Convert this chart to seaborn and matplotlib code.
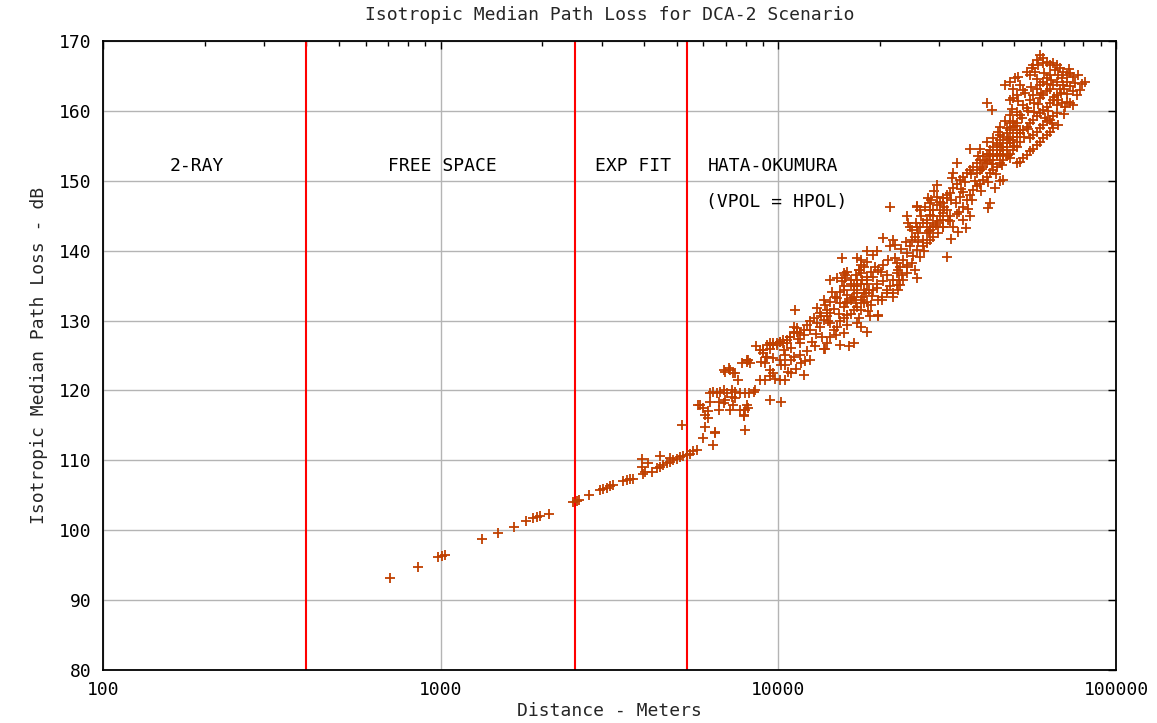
# Isotropic median path loss vs distance, DCA-2 scenario
import pandas as pd
import matplotlib
matplotlib.use("Agg")
import matplotlib.pyplot as plt
import seaborn as sns
from matplotlib.ticker import LogLocator, NullFormatter

# -------- DATA --------
# sparse points: 2-ray / free space / exp fit zones
dist_near = [708, 859, 984, 1006, 1030, 1322, 1475, 1648, 1789,
             1880, 1925, 1968, 2093, 2460, 2525, 2570, 2754,
             2963, 3030, 3100, 3170, 3245, 3475, 3555, 3636, 3720,
             3937, 3937, 4027, 4120, 4213, 3980,
             4361, 4460, 4563, 4668, 4775, 4886, 5000, 5115, 5234, 5355, 5480, 5606, 5735,
             4460, 4775, 5170, 5795]
loss_near = [93.1, 94.8, 96.1, 96.3, 96.5, 98.7, 99.6, 100.4, 101.3,
             101.7, 101.9, 102.0, 102.3, 104.1, 104.2, 104.3, 105.0,
             105.7, 105.9, 106.1, 106.3, 106.5, 107.0, 107.2, 107.3, 107.4,
             110.2, 109.1, 108.4, 109.6, 108.4, 108.1,
             108.9, 109.1, 109.4, 109.6, 109.8, 110.1, 110.2, 110.5, 110.6, 110.8, 110.9, 111.3, 111.5,
             110.6, 110.3, 115.1, 117.9]

# hata-okumura cloud, 6 - 12 km
dist_mid = [6274, 6420, 6570, 6724, 6880, 7040, 7290, 7460, 7720, 7990, 8170, 8450, 8550,
            6274, 6650, 6950, 7290, 7460,
            5870, 6000, 6210, 6070, 6210,
            6650, 6880, 7195, 7360, 7720, 7990, 7900, 8150, 8050, 7900,
            9440, 10200,
            6070, 6500, 7990, 6000, 6390, 6500,
            6950, 7195, 7440, 7600,
            7780, 8050, 8240, 8150,
            8600, 8810, 9000, 8900, 9100, 9200,
            9444, 9665, 9890, 10120, 10350, 10590, 10840, 11090, 11350, 11610,
            10200, 10430, 10920, 11700,
            9440, 9665, 9440, 9780, 10120, 10430, 10920, 10680,
            8810, 9100, 11880,
            6880, 7120, 7360, 8050, 9020]
loss_mid = [119.6, 119.8, 119.6, 119.8, 120.1, 119.6, 120.1, 119.8, 119.6, 119.6, 119.6, 119.8, 120.1,
            118.4, 118.4, 118.6, 119.1, 118.9,
            117.9, 117.5, 117.0, 116.5, 116.0,
            117.2, 118.2, 117.2, 117.9, 117.2, 117.2, 116.5, 117.5, 117.9, 116.3,
            118.6, 118.4,
            114.8, 114.1, 114.3, 113.2, 112.2, 113.9,
            122.7, 122.9, 122.5, 121.5,
            123.9, 124.1, 123.9, 124.4,
            126.3, 125.8, 125.3, 124.1, 123.9, 124.8,
            126.8, 126.5, 126.8, 127.0, 126.8, 127.2, 127.7, 128.2, 128.4, 126.8,
            123.6, 123.6, 124.4, 123.9,
            122.9, 122.5, 122.0, 121.7, 121.5, 121.5, 122.5, 122.7,
            121.5, 121.5, 122.2,
            122.9, 123.2, 122.5, 124.4, 125.8]

# 9 - 20 km
dist_far = [11200,
            12980, 13300, 13930, 14250, 13770, 13610, 14250, 14920, 15260, 15610, 15960,
            14250, 14920, 15460, 15800, 16360, 16740, 17130, 17530, 17330, 17940, 17530, 18350, 18150, 18560,
            9020, 9230, 9440, 9665, 9890, 10120, 10350, 10590, 10840, 11090, 11350, 11090, 11610, 11880,
            12150, 12430, 12720, 13010, 13300, 13610, 13930, 14250, 14580, 14920,
            15260, 15610, 15960, 16360, 16740, 17130, 17530, 17940, 18350, 18760,
            9230, 9665, 10120, 10430, 11090, 11610, 12150, 12430, 12860, 13610,
            13930, 14250, 15260, 16160, 15610, 17130, 17530, 18350,
            14420, 14750, 15260, 15960, 16550, 17530, 17130, 17940, 17530, 18350, 17130, 16360, 15610,
            15610, 19770, 16740, 13770, 19540, 19770]
loss_far = [131.5,
            131.8, 131.1, 131.5, 131.1, 132.2, 132.9, 132.7, 133.2, 132.5, 132.0, 132.7,
            135.8, 136.1, 135.6, 136.5, 135.8, 134.4, 134.9, 135.3, 137.2, 137.7, 138.6, 136.3, 133.9, 134.4,
            125.8, 126.5, 126.0, 126.8, 126.5, 127.0, 127.2, 126.8, 127.7, 128.4, 128.9, 129.1, 128.2, 128.7,
            129.4, 129.9, 130.3, 129.6, 129.1, 130.1, 130.6, 129.6, 128.7, 129.1,
            129.9, 130.3, 130.8, 131.0, 131.5, 132.0, 131.5, 132.5, 132.7, 132.2,
            124.8, 124.6, 124.4, 125.1, 124.8, 125.1, 125.6, 124.4, 126.3, 126.0,
            126.8, 127.7, 126.5, 126.3, 128.2, 129.6, 129.1, 128.4,
            134.1, 133.4, 134.1, 133.7, 133.2, 132.9, 133.9, 134.4, 136.8, 135.8, 135.8, 135.3, 134.9,
            136.8, 130.6, 126.8, 126.0, 135.3, 132.9]

# 15 - 36 km
dist_knee = [21400, 25700, 23990, 24260, 24550,
             20450, 21890, 22140, 21400,
             18350, 19100, 19540, 15460,
             17130, 17530, 18350, 17330, 16940, 15800, 15960, 16740, 17730, 18350, 19100, 18760, 19320, 19760, 20450,
             19540, 20450, 21400, 22400, 22700, 23300, 22600, 23990, 25700,
             20920, 21890, 22400, 22930, 23460, 23990, 24550, 24830, 25390, 25960,
             26260, 26860, 27480, 28110, 28760, 29430, 30100, 30800, 31500,
             26860, 27480, 28110, 28760, 29430, 30100, 30800, 31500,
             25700, 26260, 26860, 27480, 28110, 28760,
             24830, 25390, 23990, 23460, 22600, 21890,
             29760, 30800, 31860, 26260, 28110, 29430,
             15610, 16740, 17940, 19100, 20220,
             31500, 22930, 21890, 20920, 20220, 19770,
             32500, 34000, 36000]
loss_knee = [146.2, 146.4, 144.9, 143.9, 143.4,
             141.8, 141.5, 140.8, 140.6,
             139.9, 139.4, 139.9, 138.9,
             138.9, 138.0, 138.4, 137.2, 136.5, 136.1, 137.0, 134.9, 135.8, 135.3, 136.3, 137.0, 137.7, 137.2, 138.0,
             134.6, 135.6, 134.9, 135.1, 135.8, 136.5, 137.2, 138.0, 136.1,
             134.4, 135.8, 136.8, 137.7, 138.7, 139.6, 140.6, 141.5, 142.0, 142.5,
             143.4, 143.9, 144.4, 145.1, 145.8, 146.5, 147.0, 147.5, 148.0,
             141.5, 142.5, 143.0, 143.4, 144.2, 144.9, 145.4, 145.8,
             140.1, 139.1, 140.6, 141.1, 141.5, 142.0,
             138.2, 137.2, 136.8, 135.8, 134.4, 133.4,
             142.5, 143.4, 144.4, 145.8, 146.8, 147.7,
             134.4, 133.4, 133.9, 134.4, 133.4,
             139.1, 135.1, 133.9, 133.9, 132.9, 130.8,
             141.6, 142.6, 143.3]

# 25 - 52 km
dist_upper = [27480, 28750, 28110, 30100, 30780, 31500, 32220, 32960, 33730, 34500, 35290, 36120, 36940, 37790,
              38670, 39550, 40460, 41400, 42330, 43290, 44300, 45310, 46340, 47420, 48500, 49600, 50750,
              29430, 30780, 32220, 33730, 35290, 36120, 36940, 37790, 38670, 39550, 40460,
              41400, 42330, 43290, 44300, 45310, 46340, 47420, 48500, 49600, 50750,
              34500, 35290, 38670, 39550, 40460, 41400, 42330, 43290,
              44300, 45310, 46340, 47420, 48500, 49600, 50750, 51920,
              36940, 39550, 33730, 32960, 32600, 29430, 27800, 25670, 41400, 45310, 48500, 45310, 46340, 42330, 41850,
              32960, 35290, 36940, 32220, 30780, 25670, 28110]
loss_upper = [143.9, 144.9, 145.8, 145.8, 146.8, 147.5, 148.2, 148.9, 149.6, 150.1, 150.6, 151.1, 151.5, 152.0,
              152.5, 153.0, 153.5, 153.9, 154.4, 154.9, 155.4, 155.8, 156.3, 156.8, 157.3, 157.7, 158.2,
              143.9, 144.4, 144.9, 145.3, 146.3, 147.3, 148.0, 148.7, 149.2, 149.6, 150.1,
              150.6, 151.1, 151.5, 152.0, 152.5, 153.0, 153.5, 153.9, 154.4, 154.9,
              147.7, 148.4, 151.1, 151.5, 152.0, 152.5, 153.0, 153.5,
              153.9, 154.4, 154.9, 155.4, 155.8, 156.3, 156.8, 157.3,
              154.6, 154.6, 152.5, 151.1, 150.4, 149.4, 147.5, 146.3, 155.6, 157.7, 158.2, 149.9, 150.1, 146.8, 146.1,
              143.4, 144.4, 144.9, 144.2, 143.4, 143.4, 143.4]

# 41 - 82 km
dist_top = [59510, 60870, 58180, 56860, 58840, 56220, 57520, 55590, 54350, 60870,
            62290, 63710, 65170, 66690, 68220, 69760, 71400, 73030, 74700,
            65930, 67450, 68990, 63710, 62290, 60870, 59510, 58180, 66690, 65170,
            63710, 62290, 60870, 59510,
            68220, 69760, 71400, 73030, 74700, 76430, 66690, 65170, 63710, 62290,
            60870, 59510, 58180, 56860, 55590, 54350,
            53110, 51920, 50750, 49600, 48500, 47420, 46340, 45310, 44300, 43290,
            46880, 48500, 50170, 51330, 49600, 51920, 53110, 50750, 49600, 48500,
            79070, 80900, 78180, 42800, 73030, 74700, 71400, 68990, 70580, 41400,
            56860, 55590, 58180, 59510, 60870, 62290, 63710, 65170, 66690, 67450,
            65170, 63710, 62290, 60870, 59510, 58180, 56860, 55590, 54350, 53110,
            51920, 50750, 48500, 46340,
            44300, 43290, 45310, 47420, 49600, 51920, 54350, 48500, 50750, 53110, 55590, 56860]
loss_top = [168.0, 167.5, 167.3, 166.6, 166.6, 166.1, 165.6, 165.1, 165.6, 166.8,
            167.0, 166.6, 166.8, 166.6, 166.1, 165.6, 165.1, 165.4, 164.9,
            165.9, 165.1, 164.7, 165.1, 164.7, 164.2, 163.7, 163.2, 164.2, 163.7,
            163.2, 162.8, 162.3, 161.8,
            163.2, 163.7, 164.2, 163.5, 162.8, 162.3, 162.3, 161.6, 161.1, 160.6,
            160.1, 159.7, 159.2, 158.7, 158.2, 157.7,
            157.3, 156.8, 156.3, 155.8, 155.4, 154.9, 154.4, 153.9, 153.5, 153.0,
            163.7, 164.2, 164.7, 164.9, 163.2, 163.7, 163.0, 162.3, 161.8, 161.6,
            163.9, 164.2, 163.0, 160.1, 161.1, 160.8, 161.3, 161.1, 160.6, 161.1,
            156.6, 156.1, 157.0, 157.5, 158.0, 158.5, 158.7, 159.2, 159.7, 158.0,
            157.5, 157.0, 156.6, 156.1, 155.6, 155.1, 154.6, 154.2, 153.7, 153.2,
            152.7, 152.5, 153.2, 153.7,
            155.1, 156.1, 156.6, 157.5, 158.5, 159.4, 160.4, 159.4, 159.9, 160.8, 161.6, 162.3]

# extra points inside the dense core of the cloud
dist_core = [44800, 45800, 46900, 47900, 49100, 50200, 51400, 52600, 53700, 54900,
             56100, 57300, 58500, 59800, 61200, 62600, 64000, 65500, 67000, 68600,
             70100, 71800, 72500, 75500, 77000,
             44000, 46000, 48000, 50000, 52000, 53500, 55000, 57000, 58800, 61500,
             63000, 64500, 67500, 70000,
             31000, 32500, 33500, 34800, 35800, 37300, 38200, 39000, 40000, 41000,
             42000, 43000, 37500, 39800, 41800, 43800, 34200, 36500,
             20100, 21100, 22200, 23000, 23800, 24800, 25500, 26500, 27200, 28400,
             29000, 22500, 24000, 25000, 26000, 27000, 28000, 29200, 21000,
             10400, 10900, 11400, 11900, 12400, 12900, 13400, 14000, 14600, 15100,
             15800, 16400, 17000, 17700, 18400, 19000, 12600, 13500, 14800, 16000,
             17300, 18700, 11300, 12000]
loss_core = [157.0, 154.8, 158.6, 156.0, 160.3, 157.8, 161.4, 159.0, 162.5, 160.0,
             163.4, 161.1, 164.6, 162.6, 165.4, 163.9, 164.4, 162.0, 160.9, 162.6,
             163.1, 162.4, 166.0, 164.0, 165.2,
             151.0, 152.3, 153.7, 155.0, 155.6, 156.2, 157.4, 159.8, 161.0, 159.0,
             160.0, 158.2, 161.5, 159.6,
             146.2, 147.2, 146.8, 148.8, 149.8, 150.9, 150.0, 153.6, 151.7, 152.9,
             153.8, 152.4, 147.2, 148.5, 149.8, 149.0, 145.5, 145.9,
             136.9, 138.6, 139.0, 140.2, 141.3, 142.9, 143.9, 144.9, 146.3, 147.3,
             148.6, 138.2, 137.7, 139.3, 141.2, 140.0, 142.8, 143.7, 136.5,
             125.8, 126.1, 127.3, 127.9, 128.6, 128.1, 130.7, 130.0, 131.7, 131.0,
             132.5, 133.0, 132.5, 133.4, 131.3, 133.5, 127.0, 127.6, 128.0, 129.4,
             130.3, 130.6, 123.0, 124.2]

region_breaks = [400, 2500, 5350]
region_names = ["2-RAY", "FREE SPACE", "EXP FIT", "HATA-OKUMURA"]
region_note = "(VPOL = HPOL)"

x_ticks = [100, 1000, 10000, 100000]
x_ticklabels = ["100", "1000", "10000", "100000"]
y_ticks = [80, 90, 100, 110, 120, 130, 140, 150, 160, 170]

# -------- FRAME --------
df = pd.DataFrame({
    "Distance": dist_near + dist_mid + dist_far + dist_knee + dist_upper + dist_top + dist_core,
    "Loss": loss_near + loss_mid + loss_far + loss_knee + loss_upper + loss_top + loss_core,
})

# -------- SETTINGS --------
sns.set_theme(style="white")
plt.rcParams["font.family"] = ["DejaVu Sans Mono"]
FS = 13

fig, ax = plt.subplots(figsize=(11.57, 7.23), dpi=100)
fig.subplots_adjust(left=0.089, right=0.9646, top=0.9433, bottom=0.0733)

for xb in region_breaks:
    ax.axvline(xb, color="#ff0000", lw=1.5, zorder=2)

sns.scatterplot(data=df, x="Distance", y="Loss", marker="+", color="#c04000",
                s=45, linewidth=1.3, legend=False, ax=ax, zorder=3)

ax.set_xscale("log")
ax.set_xlim(100, 100000)
ax.set_ylim(80, 170)
ax.set_xticks(x_ticks)
ax.set_xticklabels(x_ticklabels)
ax.set_yticks(y_ticks)
ax.xaxis.set_minor_locator(LogLocator(base=10, subs=range(2, 10)))
ax.xaxis.set_minor_formatter(NullFormatter())

ax.grid(True, which="major", color="#b4b4b4", lw=1.0)
ax.tick_params(which="both", direction="in", top=True, right=True,
               colors="black", width=1.0)
ax.tick_params(which="major", length=6, labelsize=FS, pad=8)
ax.tick_params(which="minor", length=3.5)
for sp in ax.spines.values():
    sp.set_color("black")
    sp.set_linewidth(1.3)

# zone labels
label_x = [158, 699, 2855, 6200]
for xl, name in zip(label_x, region_names):
    ax.text(xl, 152.1, name, fontsize=FS, ha="left", va="center", color="black")
ax.text(6100, 147.0, region_note, fontsize=FS, ha="left", va="center", color="black")

ax.set_title("Isotropic Median Path Loss for DCA-2 Scenario", fontsize=FS, pad=15)
ax.set_xlabel("Distance - Meters", fontsize=FS, labelpad=2)
ax.set_ylabel("Isotropic Median Path Loss - dB", fontsize=FS, labelpad=8)

fig.savefig("out.png", dpi=100)
